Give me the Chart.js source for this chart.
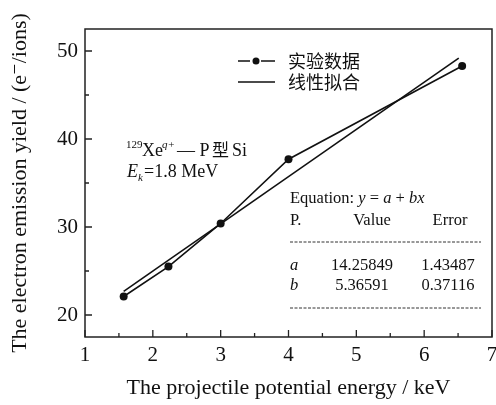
<!DOCTYPE html>
<html>
<head>
<meta charset="utf-8">
<script src="https://cdn.jsdelivr.net/npm/chart.js@4"></script>
<style>
  html, body { margin: 0; padding: 0; background: #fff; }
  #wrap { width: 496px; height: 405px; }
</style>
</head>
<body>
<div id="wrap"><canvas id="myChart" width="496" height="405"></canvas></div>
<script>
// data
const energy = [1.57, 2.23, 3.0, 4.0, 6.56];
const yieldVals = [22.1, 25.5, 30.4, 37.7, 48.3];
const fitX = [1.57, 6.51];
const fitY = [22.68, 49.19];
const xTicks = [1, 2, 3, 4, 5, 6, 7];
const yTicks = [20, 30, 40, 50];
const legendLabels = ['实验数据', '线性拟合'];
const fitRows = [['a', '14.25849', '1.43487'], ['b', '5.36591', '0.37116']];

const serif = '"Liberation Serif", "DejaVu Serif", serif';
const cjk = '"Noto Sans CJK SC", sans-serif';

// box, inner ticks, legend and text notes
const decorations = {
  id: 'decorations',
  afterDraw(chart) {
    const { ctx, chartArea: { top, bottom, left, right }, scales: { x, y } } = chart;
    ctx.save();
    ctx.strokeStyle = '#222';
    ctx.lineWidth = 1.5;
    ctx.strokeRect(left, top, right - left, bottom - top);

    // ticks pointing inwards
    ctx.lineWidth = 1.3;
    ctx.beginPath();
    for (let v = 1; v <= 7; v += 0.5) {
      const px = x.getPixelForValue(v);
      const len = Number.isInteger(v) ? 7 : 4;
      ctx.moveTo(px, bottom);
      ctx.lineTo(px, bottom - len);
    }
    for (let v = 20; v <= 50; v += 5) {
      const py = y.getPixelForValue(v);
      const len = v % 10 === 0 ? 7 : 4;
      ctx.moveTo(left, py);
      ctx.lineTo(left + len, py);
    }
    ctx.stroke();

    // legend
    ctx.fillStyle = '#111';
    ctx.strokeStyle = '#111';
    ctx.lineWidth = 1.5;
    ctx.beginPath();
    ctx.moveTo(238, 61); ctx.lineTo(250, 61);
    ctx.moveTo(261, 61); ctx.lineTo(275, 61);
    ctx.moveTo(238, 82); ctx.lineTo(275, 82);
    ctx.stroke();
    ctx.beginPath();
    ctx.arc(256, 61, 3.5, 0, Math.PI * 2);
    ctx.fill();
    ctx.font = '18px ' + cjk;
    ctx.textBaseline = 'middle';
    ctx.textAlign = 'left';
    ctx.fillText(legendLabels[0], 288, 61);
    ctx.fillText(legendLabels[1], 288, 82);

    // ion / energy note
    ctx.textBaseline = 'alphabetic';
    ctx.font = '11px ' + serif;
    ctx.fillText('129', 126, 148);
    ctx.font = '18px ' + serif;
    ctx.fillText('Xe', 142, 156);
    ctx.font = 'italic 11px ' + serif;
    ctx.fillText('q+', 162, 148);
    ctx.font = '18px ' + serif;
    ctx.fillText('— P', 177, 156);
    ctx.font = '17px ' + cjk;
    ctx.fillText('型', 212, 156);
    ctx.font = '18px ' + serif;
    ctx.fillText('Si', 232, 156);
    ctx.font = 'italic 18px ' + serif;
    ctx.fillText('E', 127, 177);
    ctx.font = 'italic 11px ' + serif;
    ctx.fillText('k', 138, 181);
    ctx.font = '18px ' + serif;
    ctx.fillText('=1.8 MeV', 144, 177);

    // fit table
    const tf = '16.5px ' + serif;
    ctx.font = tf;
    ctx.fillText('Equation: ', 290, 203);
    let cx = 290 + ctx.measureText('Equation: ').width;
    const parts = [['y', true], [' = ', false], ['a', true], [' + ', false], ['bx', true]];
    parts.forEach(([t, it]) => {
      ctx.font = (it ? 'italic ' : '') + tf;
      ctx.fillText(t, cx, 203);
      cx += ctx.measureText(t).width;
    });
    ctx.font = tf;
    ctx.fillText('P.', 290, 225);
    ctx.textAlign = 'center';
    ctx.fillText('Value', 372, 225);
    ctx.fillText('Error', 450, 225);
    fitRows.forEach((row, i) => {
      const by = 270 + i * 20;
      ctx.textAlign = 'left';
      ctx.font = 'italic ' + tf;
      ctx.fillText(row[0], 290, by);
      ctx.font = tf;
      ctx.textAlign = 'center';
      ctx.fillText(row[1], 362, by);
      ctx.fillText(row[2], 448, by);
    });
    ctx.setLineDash([3, 1.5]);
    ctx.lineWidth = 1;
    ctx.strokeStyle = '#333';
    ctx.beginPath();
    ctx.moveTo(290, 242); ctx.lineTo(481, 242);
    ctx.moveTo(290, 308); ctx.lineTo(481, 308);
    ctx.stroke();
    ctx.restore();
  }
};

const config = {
  type: 'scatter',
  data: {
    datasets: [{
      label: legendLabels[0],
      data: energy.map((v, i) => ({ x: v, y: yieldVals[i] })),
      showLine: true,
      borderColor: '#111',
      backgroundColor: '#111',
      borderWidth: 1.6,
      pointRadius: 4,
      pointBorderWidth: 0
    }, {
      label: legendLabels[1],
      data: fitX.map((v, i) => ({ x: v, y: fitY[i] })),
      showLine: true,
      borderColor: '#111',
      borderWidth: 1.6,
      pointRadius: 0
    }]
  },
  options: {
    responsive: false,
    animation: false,
    layout: { padding: { top: 29, right: 3, left: 0, bottom: 0 } },
    plugins: { legend: { display: false }, tooltip: { enabled: false } },
    scales: {
      x: {
        type: 'linear',
        min: 1, max: 7,
        grid: { display: false, drawTicks: false },
        border: { display: false },
        afterBuildTicks: (s) => { s.ticks = xTicks.map(v => ({ value: v })); },
        afterFit: (s) => { s.height = 68; s.paddingLeft = 0; s.paddingRight = 0; },
        ticks: { color: '#111', padding: 6, font: { family: serif, size: 21 } },
        title: {
          display: true,
          text: 'The projectile potential energy / keV',
          color: '#111',
          font: { family: serif, size: 22 },
          padding: { top: 0, bottom: 4 }
        }
      },
      y: {
        type: 'linear',
        min: 17.5, max: 52.5,
        grid: { display: false, drawTicks: false },
        border: { display: false },
        afterBuildTicks: (s) => { s.ticks = yTicks.map(v => ({ value: v })); },
        afterFit: (s) => { s.width = 85; },
        ticks: { color: '#111', padding: 7, font: { family: serif, size: 21 } },
        title: {
          display: true,
          text: 'The electron emission yield / (e⁻/ions)',
          color: '#111',
          font: { family: serif, size: 22 },
          padding: { top: 7, bottom: 0 }
        }
      }
    }
  },
  plugins: [decorations]
};

const myChart = new Chart(document.getElementById('myChart'), config);
</script>
</body>
</html>
